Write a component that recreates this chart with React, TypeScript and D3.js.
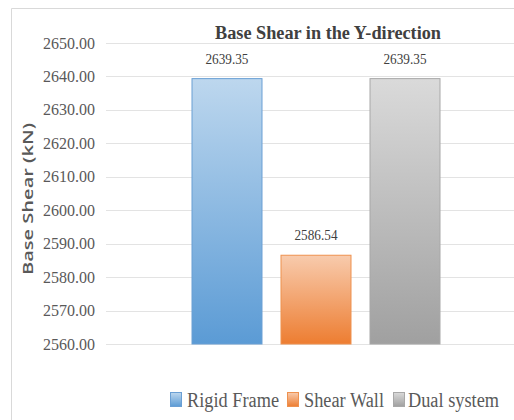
import React from "react";
import * as d3 from "d3";

const series = ["Rigid Frame", "Shear Wall", "Dual system"];
const values = [2639.35, 2586.54, 2639.35];
const valueLabels = ["2639.35", "2586.54", "2639.35"];
const yTicks = [2560, 2570, 2580, 2590, 2600, 2610, 2620, 2630, 2640, 2650];
const title = "Base Shear in the Y-direction";
const yTitle = "Base Shear (kN)";

const colors = [
  { top: "#BDD7EE", bottom: "#5B9BD5", stroke: "#6A9FD4" },
  { top: "#F8CBAD", bottom: "#ED7D31", stroke: "#EE914F" },
  { top: "#DADADA", bottom: "#A0A0A0", stroke: "#A8A8A8" },
];

const legendItems = [
  { sx: 170, tx: 187, tw: 92 },
  { sx: 287, tx: 304, tw: 80 },
  { sx: 393, tx: 408, tw: 91 },
];

export default function App() {
  const W = 514, H = 420;
  const y = d3.scaleLinear().domain([2560, 2650]).range([344, 43]);
  const x = d3.scaleBand<string>().domain(series).range([192, 440]).paddingInner(0.2135).paddingOuter(0);
  const bw = x.bandwidth();
  return (
    <svg width={W} height={H} style={{ position: "absolute", left: 0, top: 0, background: "#fff" }}>
      <defs>
        {colors.map((c, i) => (
          <linearGradient key={i} id={`g${i}`} x1="0" y1="0" x2="0" y2="1">
            <stop offset="0%" stopColor={c.top} />
            <stop offset="100%" stopColor={c.bottom} />
          </linearGradient>
        ))}
      </defs>
      <rect x={0} y={0} width={W} height={H} fill="#fff" />
      <line x1={11.5} y1={8.5} x2={W} y2={8.5} stroke="#D9D9D9" />
      <line x1={11.5} y1={8.5} x2={11.5} y2={H} stroke="#D9D9D9" />
      {yTicks.map((t) => (
        <g key={t}>
          <line x1={106} x2={W} y1={Math.round(y(t)) + 0.5} y2={Math.round(y(t)) + 0.5} stroke="#E3E3E3" strokeWidth={1.2} />
          <text x={95} y={y(t) + 5.5} textAnchor="end" fontFamily="Liberation Serif" fontSize={17} fill="#595959"
            textLength={52} lengthAdjust="spacingAndGlyphs">
            {d3.format(".2f")(t)}
          </text>
        </g>
      ))}
      {series.map((s, i) => {
        const x0 = x(s)!;
        const yt = y(values[i]);
        return (
          <g key={s}>
            <rect x={x0} y={yt} width={bw} height={y(2560) - yt} fill={`url(#g${i})`} stroke={colors[i].stroke} strokeWidth={1} />
            <text x={x0 + bw / 2} y={yt - 15} textAnchor="middle" fontFamily="Liberation Serif" fontSize={14} fill="#404040"
              textLength={43} lengthAdjust="spacingAndGlyphs">
              {valueLabels[i]}
            </text>
          </g>
        );
      })}
      <text x={328} y={39} textAnchor="middle" fontFamily="Liberation Serif" fontWeight="bold" fontSize={18} fill="#404040"
        textLength={226} lengthAdjust="spacingAndGlyphs">
        {title}
      </text>
      <text transform="translate(33,199) rotate(-90)" textAnchor="middle" fontFamily="Open Sans" fontWeight={600} fontSize={15}
        fill="#595959" textLength={152} lengthAdjust="spacingAndGlyphs">
        {yTitle}
      </text>
      {series.map((s, i) => (
        <g key={s}>
          <rect x={legendItems[i].sx + 0.5} y={392.5} width={11} height={14} fill={`url(#g${i})`} stroke={colors[i].stroke} />
          <text x={legendItems[i].tx} y={407} fontFamily="Liberation Serif" fontSize={20} fill="#595959"
            textLength={legendItems[i].tw} lengthAdjust="spacingAndGlyphs">
            {s}
          </text>
        </g>
      ))}
    </svg>
  );
}
